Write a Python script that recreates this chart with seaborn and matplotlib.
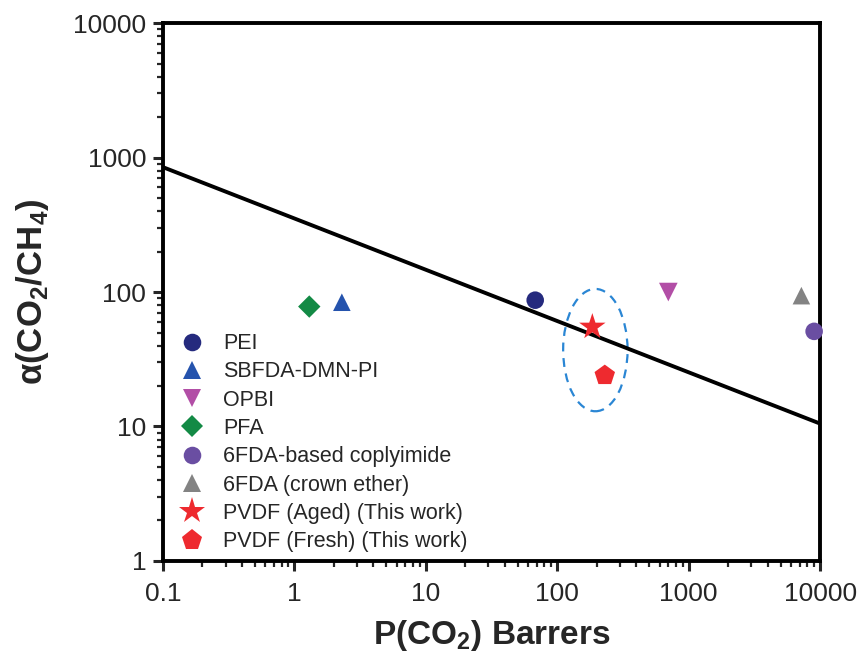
import numpy as np
import pandas as pd
import matplotlib
matplotlib.use("Agg")
import matplotlib.pyplot as plt
from matplotlib.patches import Ellipse
from matplotlib.ticker import LogLocator, FixedLocator, FixedFormatter, NullFormatter
import seaborn as sns

# --- data ---
names = ["PEI", "SBFDA-DMN-PI", "OPBI", "PFA", "6FDA-based coplyimide",
         "6FDA (crown ether)", "PVDF (Aged) (This work)", "PVDF (Fresh) (This work)"]
p_co2 = [68, 2.3, 700, 1.3, 9000, 7200, 185, 230]
alpha = [87, 84, 100, 78, 51, 94, 55, 24]

colors = ["#252a7e", "#2553ad", "#b24ea6", "#138a45", "#6a4ea2", "#838383", "#ee2a2f", "#ee2a2f"]
markers = ["o", "^", "v", "D", "o", "^", "*", "p"]
sizes = [160, 160, 180, 130, 160, 160, 400, 240]

# upper bound line
bound_x = [0.1, 10000]
bound_y = [850, 10.5]

x_ticks = [0.1, 1, 10, 100, 1000, 10000]
x_labels = ["0.1", "1", "10", "100", "1000", "10000"]
y_ticks = [1, 10, 100, 1000, 10000]
y_labels = ["1", "10", "100", "1000", "10000"]

df = pd.DataFrame({"name": names, "P": p_co2, "alpha": alpha})

sns.set_theme(style="white")
plt.rcParams["font.family"] = ["Liberation Sans", "DejaVu Sans"]
plt.rcParams["mathtext.fontset"] = "custom"
plt.rcParams["mathtext.rm"] = "Liberation Sans"
plt.rcParams["mathtext.bf"] = "Liberation Sans:bold"

fig = plt.figure(figsize=(8.57, 6.63), dpi=100)
ax = fig.add_axes([0.190, 0.154, 0.767, 0.811])

sns.lineplot(x=bound_x, y=bound_y, color="black", linewidth=2.8, ax=ax, legend=False)

sns.scatterplot(data=df, x="P", y="alpha", hue="name", style="name", size="name",
                palette=dict(zip(names, colors)), markers=dict(zip(names, markers)),
                sizes=dict(zip(names, sizes)), edgecolor="none", linewidth=0,
                ax=ax, clip_on=False, zorder=3)

ax.set_xscale("log")
ax.set_yscale("log")
ax.set_xlim(0.1, 10000)
ax.set_ylim(1, 10000)

ax.xaxis.set_major_locator(FixedLocator(x_ticks))
ax.xaxis.set_major_formatter(FixedFormatter(x_labels))
ax.yaxis.set_major_locator(FixedLocator(y_ticks))
ax.yaxis.set_major_formatter(FixedFormatter(y_labels))
ax.xaxis.set_minor_locator(LogLocator(base=10, subs=np.arange(2, 10), numticks=20))
ax.yaxis.set_minor_locator(LogLocator(base=10, subs=np.arange(2, 10), numticks=20))
ax.xaxis.set_minor_formatter(NullFormatter())
ax.yaxis.set_minor_formatter(NullFormatter())

ax.tick_params(which="major", direction="out", length=7, width=2.2, labelsize=19,
               bottom=True, left=True)
ax.tick_params(axis="x", which="major", pad=8)
ax.tick_params(axis="y", which="major", pad=5)
ax.tick_params(which="minor", direction="out", length=4, width=1.6, bottom=True, left=True)
for s in ax.spines.values():
    s.set_linewidth(2.8)
    s.set_color("black")

ax.set_xlabel(r"P(CO$_\mathbf{2}$) Barrers", fontsize=24, fontweight="bold", labelpad=9)
ax.set_ylabel(r"α(CO$_\mathbf{2}$/CH$_\mathbf{4}$)", fontsize=25, fontweight="bold", labelpad=16)

# dashed ellipse around the PVDF points (log-space centre, size in decades)
ell_center = (195, 37)
ell_w_dec, ell_h_dec = 0.49, 0.91
cx, cy = ax.transAxes.inverted().transform(ax.transData.transform(ell_center))
ax.add_patch(Ellipse((cx, cy), ell_w_dec / 5, ell_h_dec / 4, transform=ax.transAxes,
                     fill=False, edgecolor="#2a86d4", linestyle=(0, (4, 3)), linewidth=1.6))

handles, labels = ax.get_legend_handles_labels()
leg = ax.legend(handles, labels, loc="lower left", bbox_to_anchor=(-0.012, -0.012),
                frameon=False, fontsize=15.5, handletextpad=0.45, labelspacing=0.34,
                borderaxespad=0.3, markerscale=1.0)

fig.savefig("out.png", dpi=100)
